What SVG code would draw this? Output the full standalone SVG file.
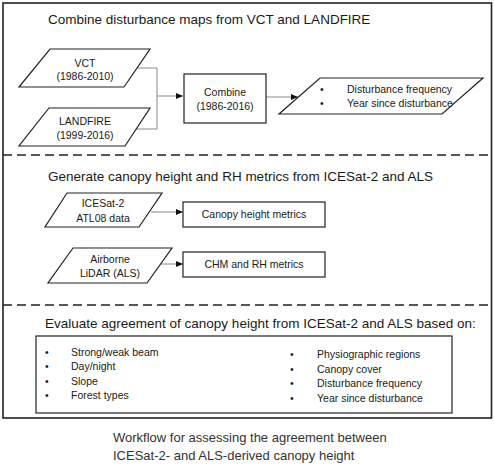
<svg xmlns="http://www.w3.org/2000/svg" width="494" height="467" viewBox="0 0 494 467">
<defs>
<style>
text{font-family:"Liberation Sans",Arial,sans-serif;fill:#1a1a1a}
.t{font-size:13.5px}
.n{font-size:10.5px}
.c{font-size:13px;fill:#333}
.m{text-anchor:middle}
.shape{fill:#fff;stroke:#222;stroke-width:1.2}
.frame{fill:none;stroke:#222;stroke-width:1.6}
.dash{stroke:#222;stroke-width:1.6;stroke-dasharray:9 5;fill:none}
.con{fill:none;stroke:#888;stroke-width:1}
</style>
<marker id="ah" markerWidth="8" markerHeight="8" refX="7" refY="4" orient="auto" markerUnits="userSpaceOnUse">
<path d="M0,1 L7,4 L0,7 z" fill="#111"/>
</marker>
</defs>
<rect width="494" height="467" fill="#fff"/>
<g id="frame">
<rect class="frame" x="3" y="3" width="488.5" height="415"/>
<line class="dash" x1="3" y1="155" x2="491.5" y2="155"/>
<line class="dash" x1="3" y1="305" x2="491.5" y2="305"/>
</g>
<g id="titles">
<text class="t" x="48" y="24">Combine disturbance maps from VCT and LANDFIRE</text>
<text class="t" x="48" y="181">Generate canopy height and RH metrics from ICESat-2 and ALS</text>
<text class="t" x="45" y="328">Evaluate agreement of canopy height from ICESat-2 and ALS based on:</text>
</g>
<g id="connectors">
<polyline class="con" points="137.5,68 157,68 157,129 136,129"/>
<line class="con" x1="157" y1="96" x2="183" y2="96" marker-end="url(#ah)"/>
<line class="con" x1="266" y1="97" x2="298" y2="97" marker-end="url(#ah)"/>
<line class="con" x1="151" y1="212" x2="183" y2="212" marker-end="url(#ah)"/>
<line class="con" x1="160" y1="264" x2="183" y2="264" marker-end="url(#ah)"/>
</g>
<g id="vct">
<polygon class="shape" points="50,49 150,49 124,87 19,87"/>
<text class="n m" x="85" y="67">VCT</text>
<text class="n m" x="85" y="80">(1986-2010)</text>
</g>
<g id="landfire">
<polygon class="shape" points="49,108 150,108 125,146 19,146"/>
<text class="n m" x="85" y="125">LANDFIRE</text>
<text class="n m" x="85" y="139">(1999-2016)</text>
</g>
<g id="combine">
<rect class="shape" x="184" y="74" width="82" height="49"/>
<text class="n m" x="225" y="96">Combine</text>
<text class="n m" x="225" y="110">(1986-2016)</text>
</g>
<g id="output">
<polygon class="shape" points="320,78 483,78 442,114 279,114"/>
<text class="n" x="320" y="93">•</text>
<text class="n" x="347" y="93">Disturbance frequency</text>
<text class="n" x="320" y="107">•</text>
<text class="n" x="347" y="107">Year since disturbance</text>
</g>
<g id="icesat">
<polygon class="shape" points="67,193 162,193 139,227 45,227"/>
<text class="n m" x="103" y="207">ICESat-2</text>
<text class="n m" x="103" y="222">ATL08 data</text>
</g>
<g id="canopy">
<rect class="shape" x="183" y="202" width="142" height="25"/>
<text class="n m" x="254" y="218">Canopy height metrics</text>
</g>
<g id="als">
<polygon class="shape" points="73,248 172,248 147,283 48,283"/>
<text class="n m" x="110" y="263">Airborne</text>
<text class="n m" x="110" y="277">LiDAR (ALS)</text>
</g>
<g id="chm">
<rect class="shape" x="183" y="252" width="142" height="25"/>
<text class="n m" x="254" y="268">CHM and RH metrics</text>
</g>
<g id="criteria">
<rect class="shape" x="36" y="336" width="416" height="77"/>
<text class="n" x="45" y="356">•</text>
<text class="n" x="71" y="356">Strong/weak beam</text>
<text class="n" x="45" y="370">•</text>
<text class="n" x="71" y="370">Day/night</text>
<text class="n" x="45" y="385">•</text>
<text class="n" x="71" y="385">Slope</text>
<text class="n" x="45" y="399">•</text>
<text class="n" x="71" y="399">Forest types</text>
<text class="n" x="290" y="358">•</text>
<text class="n" x="317" y="358">Physiographic regions</text>
<text class="n" x="290" y="373">•</text>
<text class="n" x="317" y="373">Canopy cover</text>
<text class="n" x="290" y="387">•</text>
<text class="n" x="317" y="387">Disturbance frequency</text>
<text class="n" x="290" y="402">•</text>
<text class="n" x="317" y="402">Year since disturbance</text>
</g>
<g id="caption">
<text class="c" x="113" y="442">Workflow for assessing the agreement between</text>
<text class="c" x="113" y="460">ICESat-2- and ALS-derived canopy height</text>
</g>
</svg>
